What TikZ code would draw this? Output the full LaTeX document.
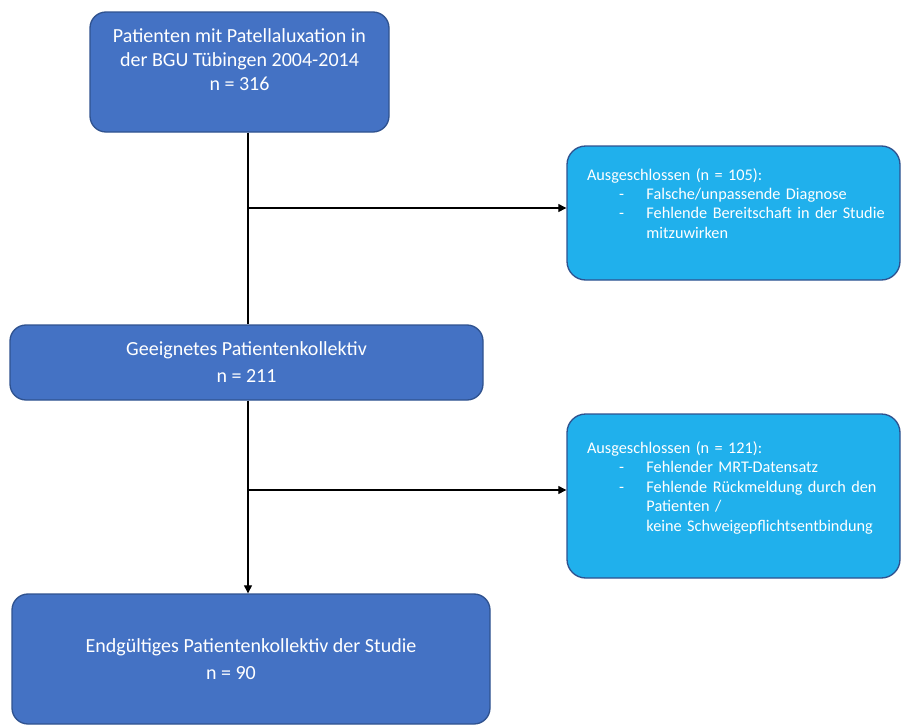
\documentclass[tikz,border=0pt]{standalone}
\usepackage{fontspec}
\setmainfont{Carlito}
\usetikzlibrary{arrows.meta, positioning}
\definecolor{boxblue}{HTML}{4472C4}
\definecolor{boxline}{HTML}{2F528F}
\definecolor{exclblue}{HTML}{20B0EC}
% Aufzaehlung in den Ausschluss-Kaesten
\newcommand{\exitem}[1]{\mbox{\hspace*{24pt}\makebox[20.6pt][l]{-}#1}}
\newcommand{\excont}[1]{\mbox{\hspace*{44.6pt}#1}}

\begin{document}
\begin{tikzpicture}[x=0.75pt, y=-0.75pt,
    mainbox/.style={draw=boxline, line width=1pt, fill=boxblue, rounded corners=12pt,
        text=white, align=center, inner sep=0pt},
    exclbox/.style={draw=boxline, line width=1pt, fill=exclblue, rounded corners=14pt,
        text=white, align=left, text width=219.75pt, minimum width=249.75pt,
        font=\fontsize{12.2}{14.6}\selectfont},
    flow/.style={line width=0.8pt},
    flowarrow/.style={flow, -{Triangle[length=6pt,width=6pt]}}]

        \useasboundingbox (0,0) rectangle (901,725);

        % --- Hauptkette (links) ---
        \node[mainbox, minimum width=224.25pt, minimum height=90pt, font=\fontsize{15}{18}\selectfont]
            (pat) at (239.5,72) {Patienten mit Patellaluxation in\\ der BGU Tübingen 2004-2014\\ n = 316\\ ~};
        \node[mainbox, minimum width=354.75pt, minimum height=56.25pt, font=\fontsize{15}{20.25}\selectfont]
            (geeig) at (246.5,362.5) {Geeignetes Patientenkollektiv\\ n = 211};
        \node[mainbox, minimum width=358.5pt, minimum height=97.5pt, font=\fontsize{15}{20.25}\selectfont]
            (final) at (251,659) {Endgültiges Patientenkollektiv der Studie\\ n = 90\hspace*{30pt}\mbox{}};

        % --- Ausschluesse (rechts) ---
        \node[exclbox, minimum height=100.5pt] (aus1) at (733.5,213)
            {Ausgeschlossen (n = 105):\\
             \exitem{Falsche/unpassende Diagnose}\\
             \exitem{Fehlende Bereitschaft in der Studie}\\
             \excont{mitzuwirken}\\ ~};
        \node[exclbox, minimum height=123pt] (aus2) at (733.5,496)
            {Ausgeschlossen (n = 121):\\
             \exitem{Fehlender MRT-Datensatz}\\
             \exitem{Fehlende Rückmeldung durch den}\\
             \excont{Patienten /}\\
             \excont{keine Schweigepflichtsentbindung}\\ ~};

        % --- Verbindungen ---
        \coordinate (trunkA) at (248,208);
        \coordinate (trunkB) at (248,490);
        \draw[flow] (pat.south -| trunkA) -- (geeig.north -| trunkA);
        \draw[flowarrow] (trunkA) -- (trunkA -| aus1.west);
        \draw[flowarrow] (geeig.south -| trunkB) -- (final.north -| trunkB);
        \draw[flowarrow] (trunkB) -- (trunkB -| aus2.west);
    \end{tikzpicture}
\end{document}
